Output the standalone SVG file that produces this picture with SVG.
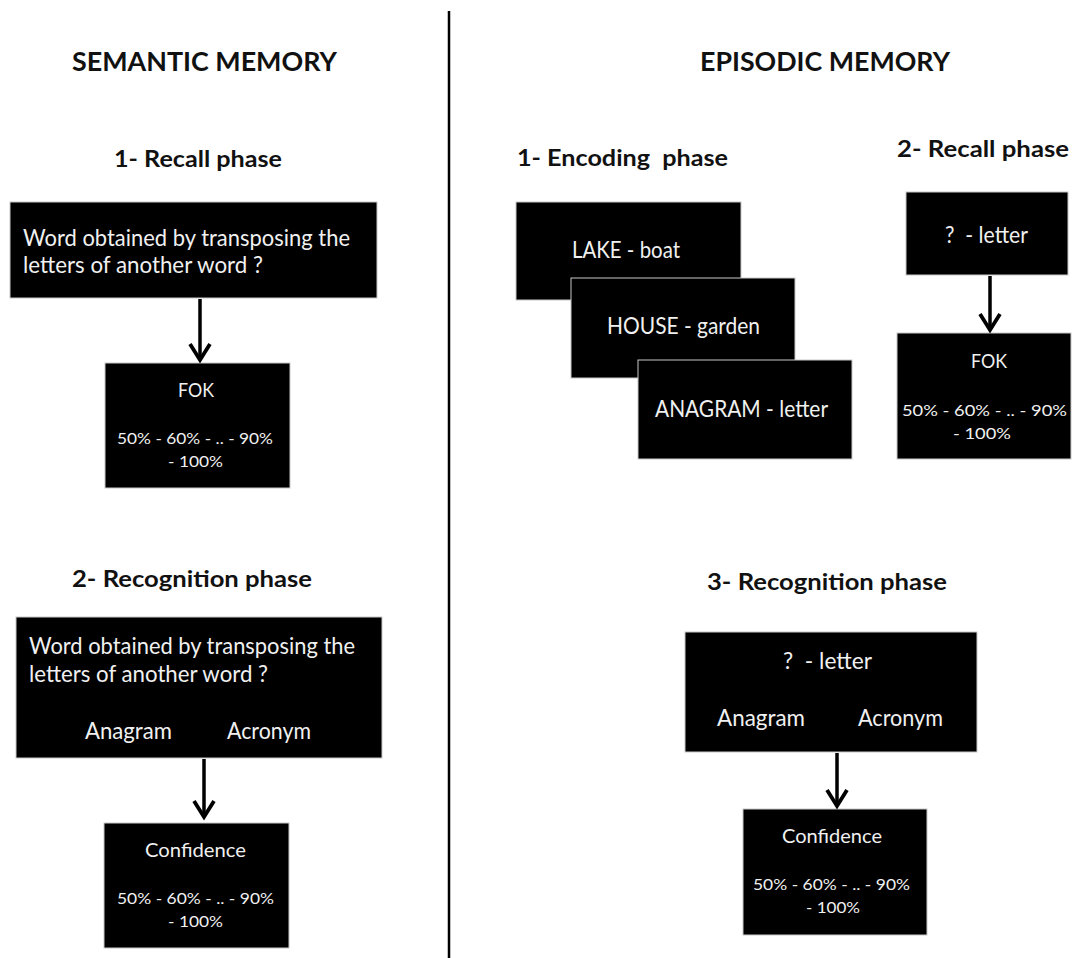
<svg xmlns="http://www.w3.org/2000/svg" width="1073" height="958" viewBox="0 0 1073 958">
<style>
.bg{fill:#ffffff}
.box{fill:#000000;stroke:#c8c8c8;stroke-width:1}
.h1{font-family:Lato,"Liberation Sans",sans-serif;font-weight:bold;font-size:26px;fill:#111111}
.h2{font-family:Lato,"Liberation Sans",sans-serif;font-weight:bold;font-size:23px;fill:#111111}
.t{font-family:Lato,"Liberation Sans",sans-serif;font-size:23px;fill:#f0f0f0}
.m{font-family:Lato,"Liberation Sans",sans-serif;font-size:19px;fill:#f0f0f0}
.s{font-family:Lato,"Liberation Sans",sans-serif;font-size:16px;fill:#f0f0f0}
.c{text-anchor:middle}
.conn{stroke:#000000;stroke-width:3.5;fill:none}
.div{stroke:#000000;stroke-width:2.5}
</style>
<defs>
<marker id="chev" markerUnits="userSpaceOnUse" viewBox="-20 -13 24 26" refX="0" refY="0" markerWidth="24" markerHeight="26" orient="auto">
<path d="M -16 -10 L 0 0 L -16 10" fill="none" stroke="#000000" stroke-width="3.8" stroke-linejoin="miter"/>
</marker>
</defs>
<rect class="bg" x="0" y="0" width="1073" height="958"/>
<line id="divider" class="div" x1="449" y1="11" x2="449" y2="958"/>

<g id="titles">
<text class="h1" x="72" y="71" textLength="265" lengthAdjust="spacingAndGlyphs">SEMANTIC MEMORY</text>
<text class="h1" x="700" y="71" textLength="250" lengthAdjust="spacingAndGlyphs">EPISODIC MEMORY</text>
<text class="h2" x="114" y="167" textLength="168" lengthAdjust="spacingAndGlyphs">1- Recall phase</text>
<text class="h2" x="517" y="166" textLength="211" lengthAdjust="spacingAndGlyphs" xml:space="preserve">1- Encoding  phase</text>
<text class="h2" x="897" y="157" textLength="172" lengthAdjust="spacingAndGlyphs">2- Recall phase</text>
<text class="h2" x="72" y="587" textLength="240" lengthAdjust="spacingAndGlyphs">2- Recognition phase</text>
<text class="h2" x="707" y="590" textLength="240" lengthAdjust="spacingAndGlyphs">3- Recognition phase</text>
</g>

<g id="sem-recall-question">
<rect class="box" x="10" y="202" width="367" height="96"/>
<text class="t" x="23" y="246" textLength="327" lengthAdjust="spacingAndGlyphs">Word obtained by transposing the</text>
<text class="t" x="23" y="273" textLength="240" lengthAdjust="spacingAndGlyphs">letters of another word ?</text>
</g>

<g id="sem-fok">
<rect class="box" x="105" y="363" width="185" height="125"/>
<text class="m c" x="196" y="397" textLength="36" lengthAdjust="spacingAndGlyphs">FOK</text>
<text class="s c" x="195" y="444" textLength="156" lengthAdjust="spacingAndGlyphs">50% - 60% - .. - 90%</text>
<text class="s c" x="195.5" y="467" textLength="55" lengthAdjust="spacingAndGlyphs">- 100%</text>
</g>

<g id="sem-recognition-question">
<rect class="box" x="16" y="617" width="366" height="141"/>
<text class="t" x="29" y="654" textLength="326" lengthAdjust="spacingAndGlyphs">Word obtained by transposing the</text>
<text class="t" x="29" y="682" textLength="239" lengthAdjust="spacingAndGlyphs">letters of another word ?</text>
<text class="t" x="85" y="739" textLength="87" lengthAdjust="spacingAndGlyphs">Anagram</text>
<text class="t" x="227" y="739" textLength="84" lengthAdjust="spacingAndGlyphs">Acronym</text>
</g>

<g id="sem-confidence">
<rect class="box" x="104" y="823" width="185" height="125"/>
<text class="m c" x="195.5" y="857" textLength="101" lengthAdjust="spacingAndGlyphs">Confidence</text>
<text class="s c" x="195.5" y="904" textLength="157" lengthAdjust="spacingAndGlyphs">50% - 60% - .. - 90%</text>
<text class="s c" x="195.5" y="927" textLength="55" lengthAdjust="spacingAndGlyphs">- 100%</text>
</g>

<g id="epi-lake">
<rect class="box" x="516" y="202" width="225" height="98"/>
<text class="t" x="572" y="258" textLength="108" lengthAdjust="spacingAndGlyphs">LAKE - boat</text>
</g>

<g id="epi-house">
<rect class="box" x="571" y="278" width="224" height="100"/>
<text class="t" x="607" y="334" textLength="153" lengthAdjust="spacingAndGlyphs">HOUSE - garden</text>
</g>

<g id="epi-anagram">
<rect class="box" x="638" y="360" width="214" height="99"/>
<text class="t" x="655" y="417" textLength="173" lengthAdjust="spacingAndGlyphs">ANAGRAM - letter</text>
</g>

<g id="epi-recall-cue">
<rect class="box" x="906" y="192" width="162" height="83"/>
<text class="t" x="945" y="243" textLength="83" lengthAdjust="spacingAndGlyphs" xml:space="preserve">?  - letter</text>
</g>

<g id="epi-fok">
<rect class="box" x="897" y="333" width="174" height="126"/>
<text class="m c" x="989" y="368" textLength="36" lengthAdjust="spacingAndGlyphs">FOK</text>
<text class="s c" x="984.5" y="416" textLength="165" lengthAdjust="spacingAndGlyphs">50% - 60% - .. - 90%</text>
<text class="s c" x="982" y="439" textLength="58" lengthAdjust="spacingAndGlyphs">- 100%</text>
</g>

<g id="epi-recognition-cue">
<rect class="box" x="685" y="632" width="292" height="120"/>
<text class="t" x="783" y="669" textLength="89" lengthAdjust="spacingAndGlyphs" xml:space="preserve">?  - letter</text>
<text class="t" x="717" y="726" textLength="88" lengthAdjust="spacingAndGlyphs">Anagram</text>
<text class="t" x="858" y="726" textLength="85" lengthAdjust="spacingAndGlyphs">Acronym</text>
</g>

<g id="epi-confidence">
<rect class="box" x="743" y="809" width="184" height="126"/>
<text class="m c" x="832" y="843" textLength="100" lengthAdjust="spacingAndGlyphs">Confidence</text>
<text class="s c" x="831.5" y="890" textLength="157" lengthAdjust="spacingAndGlyphs">50% - 60% - .. - 90%</text>
<text class="s c" x="833" y="913" textLength="54" lengthAdjust="spacingAndGlyphs">- 100%</text>
</g>

<g id="connectors">
<line class="conn" x1="200" y1="299" x2="200" y2="360" marker-end="url(#chev)"/>
<line class="conn" x1="204" y1="759" x2="204" y2="817" marker-end="url(#chev)"/>
<line class="conn" x1="990" y1="276" x2="990" y2="330" marker-end="url(#chev)"/>
<line class="conn" x1="837" y1="753" x2="837" y2="806" marker-end="url(#chev)"/>
</g>
</svg>
